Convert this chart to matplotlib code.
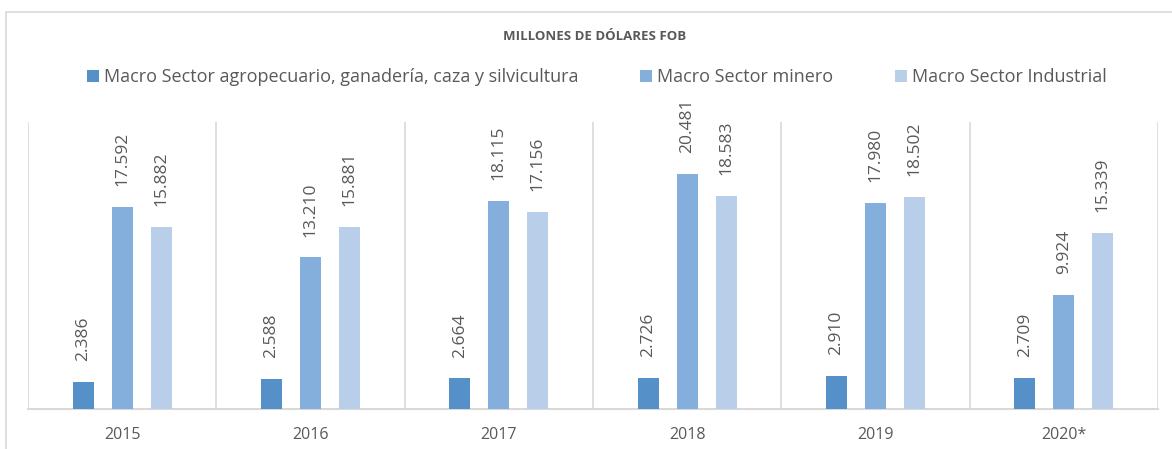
import matplotlib.pyplot as plt
import matplotlib.patches as patches
import numpy as np

years = ["2015", "2016", "2017", "2018", "2019", "2020*"]
agro = [2386, 2588, 2664, 2726, 2910, 2709]
minero = [17592, 13210, 18115, 20481, 17980, 9924]
industrial = [15882, 15881, 17156, 18583, 18502, 15339]
series_names = ["Macro Sector agropecuario, ganadería, caza y silvicultura",
                "Macro Sector minero",
                "Macro Sector Industrial"]
colors = ["#5591c8", "#84aedb", "#b8cee9"]
text_c = "#595959"
grid_c = "#d9d9d9"

plt.rcParams['font.family'] = ['Open Sans', 'DejaVu Sans']

fig = plt.figure(figsize=(11.72, 4.49), dpi=100)
# outer chart frame
fig.patches.append(patches.Rectangle((6 / 1172, -0.1), 1.2, 1 - 12 / 449 + 0.1,
                                     transform=fig.transFigure, fill=False,
                                     edgecolor=grid_c, lw=1.2))

ax = fig.add_axes([28 / 1172, 1 - 409 / 449, (1158 - 28) / 1172, (409 - 122) / 449])
x = np.arange(len(years))
w = 0.11
off = 0.207
for i, (vals, c, name) in enumerate(zip([agro, minero, industrial], colors, series_names)):
    pos = x + (i - 1) * off
    ax.bar(pos, vals, width=w, color=c, label=name, zorder=3)
    for p, v in zip(pos, vals):
        lab = "{:,}".format(v).replace(",", ".")
        ax.annotate(lab, (p, v), xytext=(0, 15), textcoords="offset points",
                    rotation=90, ha="center", va="bottom", fontsize=12.5, color=text_c)

ax.set_xlim(-0.5, len(years) - 0.5)
ax.set_ylim(0, 25000)
ax.set_yticks([])
ax.set_xticks(x)
ax.set_xticklabels(years, fontsize=11.5, color=text_c)
ax.set_xticks(np.arange(len(years) + 1) - 0.5, minor=True)
ax.tick_params(axis="x", which="both", length=0, pad=13)
ax.grid(axis="x", which="minor", color=grid_c, lw=1.2, zorder=0)
for s in ["top", "right", "left"]:
    ax.spines[s].set_visible(False)
ax.spines["bottom"].set_color(grid_c)
ax.spines["bottom"].set_linewidth(1.5)

fig.text(595 / 1172, 1 - 37 / 449, "MILLONES DE DÓLARES FOB", ha="center", va="center",
         fontsize=9.5, fontweight="bold", color=text_c)
fig.legend(loc="center", bbox_to_anchor=(597 / 1172, 1 - 77 / 449), ncol=3, frameon=False,
           fontsize=13, handlelength=0.65, handleheight=0.65, handletextpad=0.3,
           columnspacing=3.4, labelcolor=text_c)

fig.savefig("out.png", dpi=100)
